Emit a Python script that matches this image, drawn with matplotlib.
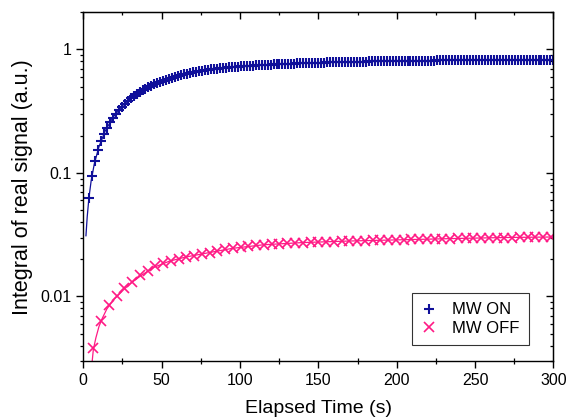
import matplotlib
matplotlib.use('Agg')
import matplotlib.pyplot as plt
from matplotlib.ticker import FuncFormatter, MultipleLocator, LogLocator

plt.rcParams['font.family'] = ['Liberation Sans', 'DejaVu Sans']

# MW ON measurement (elapsed time in s, integral in a.u.)
t_on = [3.6, 5.5, 7.4, 9.3, 11.2, 13.1, 15.0, 16.9, 18.8, 20.7,
        22.6, 24.5, 26.4, 28.3, 30.2, 32.1, 34.0, 35.9, 37.8, 39.7,
        41.6, 43.5, 45.4, 47.3, 49.2, 51.1, 53.0, 54.9, 56.8, 58.7,
        60.6, 62.5, 64.4, 66.3, 68.2, 70.1, 72.0, 73.9, 75.8, 77.7,
        79.6, 81.5, 83.4, 85.3, 87.2, 89.1, 91.0, 92.9, 94.8, 96.7,
        98.6, 100.5, 102.4, 104.3, 106.2, 108.1, 110.0, 111.9, 113.8, 115.7,
        117.6, 119.5, 121.4, 123.3, 125.2, 127.1, 129.0, 130.9, 132.8, 134.7,
        136.6, 138.5, 140.4, 142.3, 144.2, 146.1, 148.0, 149.9, 151.8, 153.7,
        155.6, 157.5, 159.4, 161.3, 163.2, 165.1, 167.0, 168.9, 170.8, 172.7,
        174.6, 176.5, 178.4, 180.3, 182.2, 184.1, 186.0, 187.9, 189.8, 191.7,
        193.6, 195.5, 197.4, 199.3, 201.2, 203.1, 205.0, 206.9, 208.8, 210.7,
        212.6, 214.5, 216.4, 218.3, 220.2, 222.1, 224.0, 225.9, 227.8, 229.7,
        231.6, 233.5, 235.4, 237.3, 239.2, 241.1, 243.0, 244.9, 246.8, 248.7,
        250.6, 252.5, 254.4, 256.3, 258.2, 260.1, 262.0, 263.9, 265.8, 267.7,
        269.6, 271.5, 273.4, 275.3, 277.2, 279.1, 281.0, 282.9, 284.8, 286.7,
        288.6, 290.5, 292.4, 294.3, 296.2, 298.1, 300.0]
y_on = [0.0629, 0.0941, 0.1241, 0.1528, 0.1804, 0.2069, 0.2323, 0.2567, 0.2801, 0.3025,
        0.3241, 0.3448, 0.3646, 0.3836, 0.4019, 0.4194, 0.4362, 0.4523, 0.4678, 0.4827,
        0.4969, 0.5106, 0.5237, 0.5363, 0.5484, 0.5600, 0.5711, 0.5818, 0.5920, 0.6019,
        0.6113, 0.6203, 0.6290, 0.6374, 0.6454, 0.6531, 0.6604, 0.6675, 0.6743, 0.6808,
        0.6860, 0.6910, 0.6957, 0.7002, 0.7045, 0.7086, 0.7124, 0.7161, 0.7196, 0.7229,
        0.7261, 0.7291, 0.7320, 0.7348, 0.7375, 0.7400, 0.7425, 0.7449, 0.7472, 0.7494,
        0.7516, 0.7537, 0.7557, 0.7577, 0.7596, 0.7615, 0.7633, 0.7651, 0.7668, 0.7685,
        0.7701, 0.7717, 0.7733, 0.7748, 0.7763, 0.7777, 0.7791, 0.7805, 0.7818, 0.7831,
        0.7844, 0.7856, 0.7868, 0.7880, 0.7891, 0.7902, 0.7913, 0.7924, 0.7934, 0.7944,
        0.7954, 0.7963, 0.7972, 0.7981, 0.7990, 0.7999, 0.8007, 0.8015, 0.8023, 0.8031,
        0.8039, 0.8046, 0.8053, 0.8060, 0.8067, 0.8074, 0.8080, 0.8087, 0.8093, 0.8099,
        0.8105, 0.8111, 0.8117, 0.8122, 0.8128, 0.8133, 0.8138, 0.8143, 0.8148, 0.8153,
        0.8158, 0.8163, 0.8167, 0.8172, 0.8176, 0.8180, 0.8184, 0.8188, 0.8192, 0.8196,
        0.8200, 0.8204, 0.8208, 0.8211, 0.8215, 0.8218, 0.8222, 0.8225, 0.8228, 0.8231,
        0.8234, 0.8237, 0.8240, 0.8243, 0.8246, 0.8249, 0.8252, 0.8255, 0.8257, 0.8260,
        0.8263, 0.8265, 0.8268, 0.8270, 0.8273, 0.8275, 0.8278]

# MW OFF measurement
t_off = [6.4, 11.35, 16.3, 21.25, 26.2, 31.15, 36.1, 41.05, 46.0, 50.95,
         55.9, 60.85, 65.8, 70.75, 75.7, 80.65, 85.6, 90.55, 95.5, 100.45,
         105.4, 110.35, 115.3, 120.25, 125.2, 130.15, 135.1, 140.05, 145.0, 149.95,
         154.9, 159.85, 164.8, 169.75, 174.7, 179.65, 184.6, 189.55, 194.5, 199.45,
         204.4, 209.35, 214.3, 219.25, 224.2, 229.15, 234.1, 239.05, 244.0, 248.95,
         253.9, 258.85, 263.8, 268.75, 273.7, 278.65, 283.6, 288.55, 293.5, 298.45]
y_off = [0.0038, 0.0063, 0.0086, 0.0101, 0.0117, 0.0132, 0.0149, 0.0161, 0.0176, 0.0186,
         0.0195, 0.0201, 0.0208, 0.0214, 0.0220, 0.0226, 0.0233, 0.0240, 0.0245, 0.0250,
         0.0254, 0.0259, 0.0262, 0.0265, 0.0267, 0.0269, 0.0271, 0.0273, 0.0274, 0.0276,
         0.0277, 0.0278, 0.0280, 0.0281, 0.0282, 0.0283, 0.0284, 0.0285, 0.0286, 0.0287,
         0.0288, 0.0290, 0.0290, 0.0291, 0.0292, 0.0293, 0.0294, 0.0295, 0.0296, 0.0296,
         0.0297, 0.0298, 0.0299, 0.0299, 0.0300, 0.0301, 0.0301, 0.0302, 0.0302, 0.0303]

# fitted curves
fit_t_on = [1.7, 2.5, 3.6, 5, 7, 10, 14, 19, 25, 32, 40, 50, 60, 75, 90,
            110, 130, 150, 175, 200, 230, 260, 300]
fit_on = [0.031, 0.0441, 0.0629, 0.0860, 0.1179, 0.1632, 0.2191, 0.2825, 0.3501,
          0.4186, 0.4850, 0.5534, 0.6084, 0.6715, 0.7150, 0.7425, 0.7665, 0.7805,
          0.7955, 0.8060, 0.8160, 0.8220, 0.8278]
fit_t_off = [5.7, 6.4, 8, 10, 12, 15, 19, 24, 30, 37, 45, 55, 65, 80, 95,
             115, 140, 170, 200, 240, 270, 300]
fit_off = [0.0030, 0.0037, 0.0046, 0.0057, 0.0066, 0.0079, 0.0093, 0.0108, 0.0127,
           0.0148, 0.0172, 0.0193, 0.0208, 0.0226, 0.0245, 0.0262, 0.0273, 0.0281,
           0.0287, 0.0295, 0.0300, 0.0303]

blue = '#10109A'
pink = '#FF1A85'

fig = plt.figure(figsize=(5.74, 4.18), dpi=100)
ax = fig.add_axes([0.1451, 0.1364, 0.819, 0.8342])

ax.plot(fit_t_on, fit_on, '-', color=blue, lw=0.9)
ax.plot(fit_t_off, fit_off, '-', color=pink, lw=0.9)
ax.plot(t_on, y_on, '+', color=blue, ms=7, mew=1.5, label='MW ON')
ax.plot(t_off, y_off, 'x', color=pink, ms=6.5, mew=1.2, label='MW OFF')

ax.set_yscale('log')
ax.set_xlim(0, 300)
ax.set_ylim(0.003, 2)

ax.xaxis.set_major_locator(MultipleLocator(50))
ax.xaxis.set_minor_locator(MultipleLocator(25))
ax.yaxis.set_major_locator(LogLocator(base=10))
ax.yaxis.set_minor_locator(LogLocator(base=10, subs=range(2, 10)))
ax.yaxis.set_major_formatter(FuncFormatter(lambda v, p: '%g' % v))

for s in ax.spines.values():
    s.set_linewidth(1.0)
ax.tick_params(which='major', direction='out', length=5, width=1.0, labelsize=11.5)
ax.tick_params(which='minor', direction='out', length=2.5, width=0.9)
ax.tick_params(axis='x', which='minor', direction='inout', length=4)

# right and top axes with inward ticks
sy = ax.secondary_yaxis('right')
sy.tick_params(which='major', direction='in', length=5, width=1.0, labelright=False)
sy.tick_params(which='minor', direction='in', length=2.5, width=0.9)
sy.yaxis.set_minor_locator(LogLocator(base=10, subs=range(2, 10)))
sx = ax.secondary_xaxis('top')
sx.xaxis.set_major_locator(MultipleLocator(50))
sx.xaxis.set_minor_locator(MultipleLocator(25))
sx.tick_params(which='major', direction='in', length=5, width=1.0, labeltop=False)
sx.tick_params(which='minor', direction='in', length=2.5, width=0.9)

ax.set_xlabel('Elapsed Time (s)', fontsize=14, labelpad=9)
ax.set_ylabel('Integral of real signal (a.u.)', fontsize=15.5, labelpad=5)

leg = ax.legend(loc='lower right', bbox_to_anchor=(0.948, 0.046), borderaxespad=0,
                fontsize=12, frameon=True, fancybox=False, edgecolor='black',
                handlelength=1.0, handletextpad=0.9, borderpad=0.55, labelspacing=0.2)
leg.get_frame().set_linewidth(0.8)

fig.savefig('out.png', dpi=100)
